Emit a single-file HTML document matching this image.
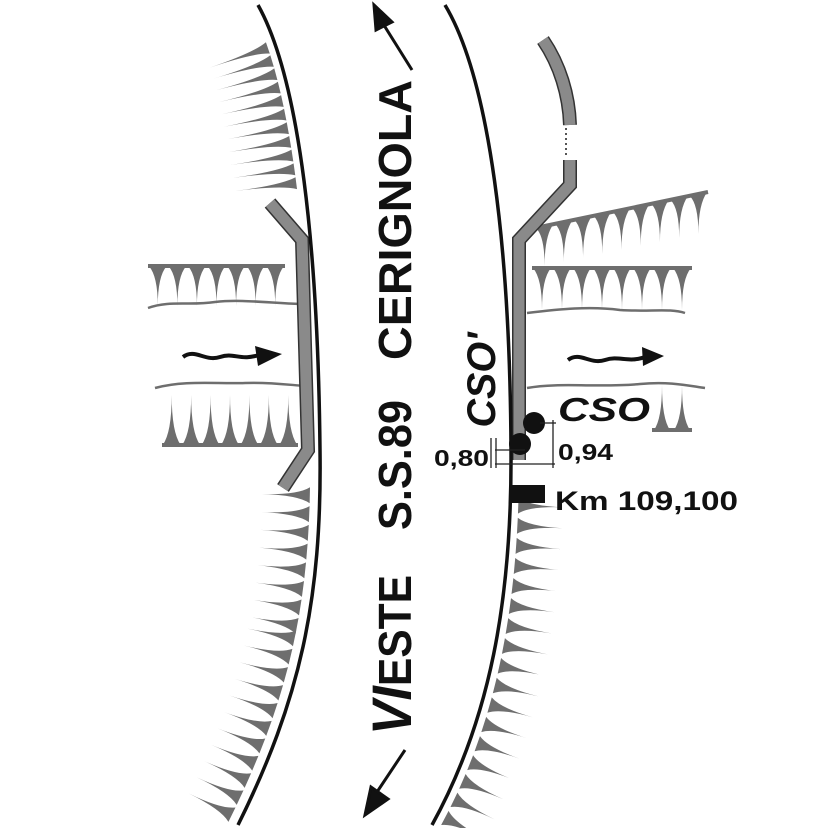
<!DOCTYPE html>
<html><head><meta charset="utf-8">
<style>html,body{margin:0;padding:0;background:#fff;}svg{display:block}</style></head>
<body>
<svg id="s" width="828" height="828" viewBox="0 0 828 828" xmlns="http://www.w3.org/2000/svg" font-family="Liberation Sans, sans-serif">
<g id="h" fill="#6e6e6e"></g>
<g fill="none" stroke="#6e6e6e" stroke-width="2.5">
<path d="M148,308 C170,300 190,306 215,302 C240,299 270,303 300,304"/>
<path d="M155,388 C185,380 215,384 245,383 C270,382 290,385 305,386"/>
<path d="M527,313 C560,309 590,306 620,310 C650,312 670,308 685,313"/>
<path d="M527,388 C560,382 600,388 640,384 C670,381 690,386 705,388"/>
</g>
<g fill="none" stroke-linejoin="miter">
<polyline points="270,203 302,240 308,450 283,488" stroke="#333" stroke-width="14"/>
<polyline points="270,203 302,240 308,450 283,488" stroke="#8a8a8a" stroke-width="11"/>
<polyline points="519,460 519,240 570,185 570,160" stroke="#333" stroke-width="14"/>
<polyline points="519,460 519,240 570,185 570,160" stroke="#8a8a8a" stroke-width="11"/>
<path d="M543,40 C560,65 569,95 570,125" stroke="#333" stroke-width="14"/>
<path d="M543,40 C560,65 569,95 570,125" stroke="#8a8a8a" stroke-width="11"/>
<line x1="566" y1="128" x2="566" y2="158" stroke="#555" stroke-width="2" stroke-dasharray="2,3"/>
</g>
<path id="L" d="M258,5 C300,80 318,250 320,450 C322,600 300,700 238,825" fill="none" stroke="#111" stroke-width="3.5"/>
<path id="R" d="M445,5 C490,80 510,250 511,450 C512,600 490,720 432,825" fill="none" stroke="#111" stroke-width="3.5"/>
<g stroke="#111" stroke-width="3" fill="#111">
<line x1="412" y1="70" x2="382" y2="22"/>
<polygon points="374,5 392,22 376,30"/>
<line x1="405" y1="750" x2="375" y2="795"/>
<polygon points="365,815 371,787 388,799"/>
</g>
<g fill="none" stroke="#111" stroke-width="4">
<path d="M183,357 C195,348 205,362 220,357 C235,352 240,362 262,354"/>
<path d="M568,360 C580,351 590,365 605,360 C620,355 628,364 648,356"/>
</g>
<polygon points="255,346 282,354 258,366" fill="#111"/>
<polygon points="642,347 664,356 643,366" fill="#111"/>
<g font-weight="bold" fill="#111">
<text transform="translate(411,220) rotate(-90)" font-size="46" text-anchor="middle" textLength="280" lengthAdjust="spacingAndGlyphs">CERIGNOLA</text>
<text transform="translate(411,465) rotate(-90)" font-size="46" text-anchor="middle" textLength="130" lengthAdjust="spacingAndGlyphs">S.S.89</text>
<text transform="translate(411,735) rotate(-90)" font-size="46" textLength="160" lengthAdjust="spacingAndGlyphs"><tspan font-size="56" font-style="italic">VI</tspan>ESTE</text>
<text transform="translate(495,380) rotate(-90)" font-size="40" font-style="italic" text-anchor="middle" textLength="95" lengthAdjust="spacingAndGlyphs">CSO'</text>
<text x="558" y="421" font-size="33" font-style="italic" textLength="92" lengthAdjust="spacingAndGlyphs">CSO</text>
<text x="434" y="466" font-size="23" textLength="55" lengthAdjust="spacingAndGlyphs">0,80</text>
<text x="558" y="460" font-size="23" textLength="55" lengthAdjust="spacingAndGlyphs">0,94</text>
<text x="555" y="510" font-size="27" textLength="183" lengthAdjust="spacingAndGlyphs">Km 109,100</text>
</g>
<rect x="510" y="485" width="35" height="18" fill="#111"/>
<circle cx="534" cy="423" r="11" fill="#111"/>
<circle cx="520" cy="444" r="11" fill="#111"/>
<g stroke="#222" stroke-width="1.3">
<line x1="496" y1="438" x2="496" y2="468"/><line x1="491" y1="438" x2="491" y2="468"/>
<line x1="495" y1="450" x2="525" y2="450"/><line x1="495" y1="464" x2="555" y2="464"/>
<line x1="553" y1="420" x2="553" y2="468"/><line x1="540" y1="423" x2="556" y2="423"/>
</g>
</svg>
<script>
var NS="http://www.w3.org/2000/svg",h=document.getElementById('h');
function tri(bx,by,ux,uy,nx,ny,hw,len){
 var p=document.createElementNS(NS,'path');
 var lx=bx-ux*hw,ly=by-uy*hw,rx=bx+ux*hw,ry=by+uy*hw,tx=bx+nx*len,ty=by+ny*len;
 var cx=bx+nx*len*0.25,cy=by+ny*len*0.25;
 p.setAttribute('d','M'+lx+','+ly+' Q'+cx+','+cy+' '+tx+','+ty+' Q'+cx+','+cy+' '+rx+','+ry+' Z');
 h.appendChild(p);}
function road(id,y0,y1,side,off,hw,len,sp){
 var P=document.getElementById(id),T=P.getTotalLength(),last=-1e9;
 for(var s=0;s<T;s+=1){var a=P.getPointAtLength(s);if(a.y<y0||a.y>y1)continue;
  if(s-last<sp)continue;last=s;
  var b=P.getPointAtLength(Math.min(T,s+1)),dx=b.x-a.x,dy=b.y-a.y,l=Math.hypot(dx,dy);dx/=l;dy/=l;
  var nx=dy,ny=-dx;
  if((side<0&&nx>0)||(side>0&&nx<0)){nx=-nx;ny=-ny;}
  var bx=a.x+nx*off,by=a.y+ny*off;tri(bx,by,dx,dy,nx,ny,hw,len);}
}
road('L',45,190,-1,8,6,62,14);
road('L',495,640,-1,10,8,48,19);
road('L',640,820,-1,10,8,48,19);
road('R',505,820,1,8,8,45,20);
function comb(x0,y0,x1,y1,n,len,hw,dir){
 var dx=x1-x0,dy=y1-y0,l=Math.hypot(dx,dy),ux=dx/l,uy=dy/l;
 var bar=document.createElementNS(NS,'line');bar.setAttribute('x1',x0);bar.setAttribute('y1',y0);bar.setAttribute('x2',x1);bar.setAttribute('y2',y1);bar.setAttribute('stroke','#6e6e6e');bar.setAttribute('stroke-width','4');h.appendChild(bar);
 for(var i=0;i<n;i++){var t=(i+0.5)/n;tri(x0+dx*t,y0+dy*t,ux,uy,0,dir,hw,len);}
}
comb(148,266,285,266,7,40,9,1);
comb(162,445,298,445,7,50,9,-1);
comb(532,268,692,268,8,42,9,1);
comb(535,228,708,192,9,40,9,1);
comb(652,430,692,430,2,45,8,-1);
</script>
</body></html>
